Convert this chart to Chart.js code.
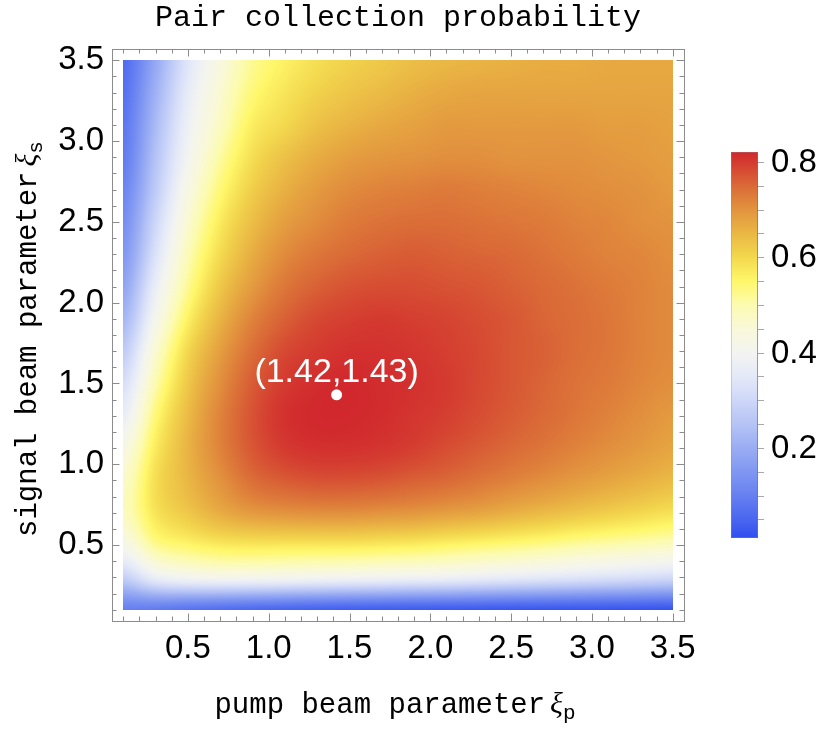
<!DOCTYPE html>
<html><head><meta charset="utf-8">
<script src="https://cdn.jsdelivr.net/npm/chart.js@4.4.1/dist/chart.umd.min.js"></script>
<style>html,body{margin:0;padding:0;background:#fff;}canvas{display:block;}</style>
</head><body>
<canvas id="c" width="822" height="729"></canvas>
<script>
// ---------------- data ----------------
const chartTitle = "Pair collection probability";
const xAxisLabel = "pump beam parameter";
const xAxisSymbol = "\u03BE";
const xAxisSub = "p";
const yAxisLabel = "signal beam parameter";
const yAxisSymbol = "\u03BE";
const yAxisSub = "s";

// grid nodes (pump = x, signal = y)
const pumpNodes   = [0.1,0.3,0.5,0.7,0.9,1.1,1.3,1.5,1.7,1.9,2.1,2.3,2.5,2.7,2.9,3.1,3.3,3.5];
const signalNodes = [0.1,0.3,0.5,0.7,0.9,1.1,1.3,1.5,1.7,1.9,2.1,2.3,2.5,2.7,2.9,3.1,3.3,3.5];

// probability rows: one row per signal node (bottom to top), columns follow pumpNodes
const rowS01 = [0.10,0.09,0.075,0.065,0.055,0.048,0.042,0.038,0.035,0.032,0.030,0.028,0.026,0.025,0.024,0.023,0.022,0.020];
const rowS03 = [0.28,0.37,0.40,0.41,0.41,0.405,0.40,0.395,0.39,0.385,0.38,0.37,0.36,0.35,0.34,0.33,0.32,0.31];
const rowS05 = [0.42,0.52,0.55,0.57,0.575,0.575,0.575,0.575,0.57,0.565,0.555,0.545,0.535,0.525,0.51,0.50,0.49,0.48];
const rowS07 = [0.48,0.58,0.625,0.665,0.69,0.70,0.705,0.705,0.70,0.695,0.685,0.675,0.66,0.645,0.63,0.615,0.60,0.585];
const rowS09 = [0.47,0.59,0.65,0.70,0.745,0.765,0.775,0.775,0.77,0.76,0.75,0.735,0.72,0.705,0.69,0.675,0.66,0.645];
const rowS11 = [0.43,0.57,0.655,0.72,0.77,0.80,0.81,0.81,0.805,0.795,0.78,0.765,0.75,0.735,0.72,0.705,0.69,0.675];
const rowS13 = [0.37,0.54,0.645,0.72,0.775,0.81,0.82,0.82,0.815,0.805,0.795,0.78,0.765,0.75,0.735,0.72,0.705,0.69];
const rowS15 = [0.32,0.50,0.625,0.705,0.765,0.80,0.815,0.82,0.815,0.81,0.80,0.785,0.77,0.755,0.74,0.73,0.715,0.705];
const rowS17 = [0.27,0.46,0.60,0.685,0.745,0.785,0.80,0.81,0.81,0.805,0.795,0.785,0.77,0.76,0.745,0.735,0.72,0.71];
const rowS19 = [0.22,0.41,0.56,0.655,0.72,0.76,0.785,0.795,0.80,0.795,0.79,0.78,0.77,0.755,0.745,0.735,0.72,0.71];
const rowS21 = [0.18,0.37,0.52,0.625,0.69,0.735,0.76,0.775,0.78,0.78,0.775,0.77,0.76,0.75,0.74,0.73,0.72,0.71];
const rowS23 = [0.15,0.33,0.49,0.595,0.665,0.71,0.735,0.75,0.76,0.765,0.76,0.755,0.75,0.74,0.73,0.72,0.715,0.705];
const rowS25 = [0.13,0.30,0.46,0.57,0.64,0.685,0.71,0.73,0.74,0.745,0.745,0.74,0.735,0.73,0.72,0.715,0.705,0.70];
const rowS27 = [0.11,0.27,0.43,0.54,0.615,0.66,0.69,0.71,0.72,0.725,0.73,0.725,0.72,0.715,0.71,0.705,0.70,0.69];
const rowS29 = [0.09,0.25,0.40,0.51,0.59,0.635,0.665,0.685,0.695,0.70,0.705,0.705,0.70,0.70,0.70,0.695,0.69,0.685];
const rowS31 = [0.08,0.23,0.38,0.48,0.565,0.60,0.635,0.655,0.67,0.68,0.69,0.69,0.69,0.69,0.69,0.685,0.685,0.68];
const rowS33 = [0.07,0.21,0.36,0.46,0.54,0.58,0.61,0.63,0.645,0.66,0.67,0.675,0.675,0.675,0.675,0.675,0.675,0.675];
const rowS35 = [0.06,0.19,0.34,0.44,0.52,0.56,0.59,0.61,0.625,0.64,0.65,0.655,0.66,0.665,0.665,0.67,0.67,0.67];
const probability = [rowS01,rowS03,rowS05,rowS07,rowS09,rowS11,rowS13,rowS15,rowS17,rowS19,rowS21,rowS23,rowS25,rowS27,rowS29,rowS31,rowS33,rowS35];

const peakPoint = {x: 1.42, y: 1.43};
const peakLabel = "(1.42,1.43)";

const xTickValues = [0.5,1.0,1.5,2.0,2.5,3.0,3.5];
const yTickValues = [0.5,1.0,1.5,2.0,2.5,3.0,3.5];
const colorbarTicks = [0.2,0.4,0.6,0.8];
const colorbarMin = 0.011;
const colorbarMax = 0.821;
const colorStops = [
  [0.011,'#2f4fee'],[0.05,'#4a66f0'],[0.10,'#6680f1'],[0.15,'#8097f2'],[0.20,'#9aadf3'],
  [0.25,'#b5c3f6'],[0.30,'#ced7f8'],[0.35,'#e4e9f8'],[0.40,'#f3f4f0'],[0.45,'#f9f8da'],
  [0.50,'#fcfbb0'],[0.55,'#fff76a'],[0.60,'#f3d84e'],[0.65,'#eab744'],[0.70,'#e2933e'],
  [0.75,'#da6a37'],[0.80,'#d43a30'],[0.821,'#d1282d']
];

// ---------------- helpers ----------------
function hexToRgb(h){const n=parseInt(h.slice(1),16);return [(n>>16)&255,(n>>8)&255,n&255];}
const stopRgb = colorStops.map(s=>[s[0],hexToRgb(s[1])]);
function colorFor(v){
  if (v<=stopRgb[0][0]) return stopRgb[0][1];
  for (let k=1;k<stopRgb.length;k++){
    if (v<=stopRgb[k][0]){
      const v0=stopRgb[k-1][0], c0=stopRgb[k-1][1], v1=stopRgb[k][0], c1=stopRgb[k][1];
      const t=(v-v0)/(v1-v0);
      return [c0[0]+(c1[0]-c0[0])*t, c0[1]+(c1[1]-c0[1])*t, c0[2]+(c1[2]-c0[2])*t];
    }
  }
  return stopRgb[stopRgb.length-1][1];
}
function cr(p0,p1,p2,p3,t){const t2=t*t,t3=t2*t;return 0.5*(2*p1+(-p0+p2)*t+(2*p0-5*p1+4*p2-p3)*t2+(-p0+3*p1-3*p2+p3)*t3);}
function locate(nodes,v){let i=0;while(i<nodes.length-2&&v>nodes[i+1])i++;let t=(v-nodes[i])/(nodes[i+1]-nodes[i]);t=Math.max(0,Math.min(1,t));return [i,t];}
function at(j,i){j=Math.max(0,Math.min(probability.length-1,j));i=Math.max(0,Math.min(pumpNodes.length-1,i));return probability[j][i];}

const MONO = '"Liberation Mono", "DejaVu Sans Mono", monospace';
const SANS = '"Liberation Sans", Arial, sans-serif';
const SERIF = '"Liberation Serif", "DejaVu Serif", serif';
const frameColor = '#8c8c8c';

// ---------------- plugins ----------------
const heatmapPlugin = {
  id: 'heatmap',
  beforeDatasetsDraw(chart){
    const ctx = chart.ctx, sx = chart.scales.x, sy = chart.scales.y;
    const left = Math.round(sx.getPixelForValue(pumpNodes[0]));
    const right = Math.round(sx.getPixelForValue(pumpNodes[pumpNodes.length-1]));
    const top = Math.round(sy.getPixelForValue(signalNodes[signalNodes.length-1]));
    const bottom = Math.round(sy.getPixelForValue(signalNodes[0]));
    const w = right-left, h = bottom-top;
    const off = document.createElement('canvas'); off.width=w; off.height=h;
    const octx = off.getContext('2d');
    const img = octx.createImageData(w,h);
    const colInfo = [];
    for (let px=0; px<w; px++) colInfo.push(locate(pumpNodes, sx.getValueForPixel(left+px+0.5)));
    for (let py=0; py<h; py++){
      const [j,ty] = locate(signalNodes, sy.getValueForPixel(top+py+0.5));
      for (let px=0; px<w; px++){
        const [i,tx] = colInfo[px];
        const r0=cr(at(j-1,i-1),at(j-1,i),at(j-1,i+1),at(j-1,i+2),tx);
        const r1=cr(at(j,i-1),at(j,i),at(j,i+1),at(j,i+2),tx);
        const r2=cr(at(j+1,i-1),at(j+1,i),at(j+1,i+1),at(j+1,i+2),tx);
        const r3=cr(at(j+2,i-1),at(j+2,i),at(j+2,i+1),at(j+2,i+2),tx);
        const z = cr(r0,r1,r2,r3,ty);
        const c = colorFor(z);
        const k = (py*w+px)*4;
        img.data[k]=c[0]; img.data[k+1]=c[1]; img.data[k+2]=c[2]; img.data[k+3]=255;
      }
    }
    octx.putImageData(img,0,0);
    ctx.drawImage(off,left,top);
  }
};

function drawParts(ctx, parts, gap){
  let x=0;
  parts.forEach((p,idx)=>{ctx.font=p.font; ctx.fillText(p.text, x, p.dy); x+=ctx.measureText(p.text).width + (idx===0?gap:0);});
  return x;
}
function measureParts(ctx, parts, gap){
  let x=0;
  parts.forEach((p,idx)=>{ctx.font=p.font; x+=ctx.measureText(p.text).width + (idx===0?gap:0);});
  return x;
}

const decorPlugin = {
  id: 'decor',
  afterDatasetsDraw(chart){
    const ctx = chart.ctx, sx = chart.scales.x, sy = chart.scales.y;
    ctx.save();
    ctx.fillStyle='#fff'; ctx.font='34px '+SANS; ctx.textAlign='center'; ctx.textBaseline='alphabetic';
    ctx.fillText(peakLabel, sx.getPixelForValue(peakPoint.x), sy.getPixelForValue(peakPoint.y)-13);
    ctx.restore();
  },
  afterDraw(chart){
    const ctx = chart.ctx, ca = chart.chartArea, sx = chart.scales.x, sy = chart.scales.y;
    ctx.save();
    ctx.strokeStyle=frameColor; ctx.lineWidth=1;
    ctx.strokeRect(Math.round(ca.left)+0.5, Math.round(ca.top)+0.5, Math.round(ca.right-ca.left), Math.round(ca.bottom-ca.top));
    ctx.beginPath();
    for (let k=1;k<=35;k++){
      const v=k/10, major=(k%5===0), len= major?7.5:4.5;
      const px=Math.round(sx.getPixelForValue(v))+0.5;
      ctx.moveTo(px, ca.bottom); ctx.lineTo(px, ca.bottom-len);
      ctx.moveTo(px, ca.top); ctx.lineTo(px, ca.top+len);
      const py=Math.round(sy.getPixelForValue(v))+0.5;
      ctx.moveTo(ca.left, py); ctx.lineTo(ca.left+len, py);
      ctx.moveTo(ca.right, py); ctx.lineTo(ca.right-len, py);
    }
    ctx.stroke();

    ctx.fillStyle='#000'; ctx.textAlign='center'; ctx.textBaseline='alphabetic';
    ctx.font='30px '+MONO;
    ctx.fillText(chartTitle, (ca.left+ca.right)/2, 26);

    ctx.textAlign='left';
    const xParts=[{text:xAxisLabel,font:'29px '+MONO,dy:0},{text:xAxisSymbol,font:'italic 30px '+SERIF,dy:0},{text:xAxisSub,font:'21px '+MONO,dy:6}];
    const xw=measureParts(ctx,xParts,5);
    ctx.save(); ctx.translate((ca.left+ca.right)/2 - xw/2 - 3, 713); drawParts(ctx,xParts,5); ctx.restore();
    const yParts=[{text:yAxisLabel,font:'29px '+MONO,dy:0},{text:yAxisSymbol,font:'italic 30px '+SERIF,dy:0},{text:yAxisSub,font:'21px '+MONO,dy:6}];
    const yw=measureParts(ctx,yParts,5);
    ctx.save(); ctx.translate(36, (ca.top+ca.bottom)/2 + yw/2 + 4); ctx.rotate(-Math.PI/2); drawParts(ctx,yParts,5); ctx.restore();

    const cbLeft=731, cbRight=758, cbTop=152, cbBottom=538;
    const cbY = v => cbTop + (colorbarMax - v)/(colorbarMax-colorbarMin)*(cbBottom-cbTop);
    for (let py=cbTop; py<cbBottom; py++){
      const v = colorbarMax - (py+0.5-cbTop)/(cbBottom-cbTop)*(colorbarMax-colorbarMin);
      const c = colorFor(v);
      ctx.fillStyle='rgb('+Math.round(c[0])+','+Math.round(c[1])+','+Math.round(c[2])+')';
      ctx.fillRect(cbLeft, py, cbRight-cbLeft, 1);
    }
    ctx.strokeStyle='rgba(90,90,90,0.55)'; ctx.lineWidth=1;
    ctx.beginPath(); ctx.moveTo(cbRight-0.5, cbTop); ctx.lineTo(cbRight-0.5, cbBottom); ctx.stroke();
    ctx.strokeStyle='rgba(150,150,150,0.35)';
    ctx.strokeRect(cbLeft+0.5, cbTop+0.5, cbRight-cbLeft-1, cbBottom-cbTop-1);
    ctx.strokeStyle='#aaaaaa'; ctx.beginPath();
    for (let k=1;k<=16;k++){
      const v=k*0.05, y=Math.round(cbY(v))+0.5;
      ctx.moveTo(cbRight, y); ctx.lineTo(cbRight+6, y);
    }
    ctx.stroke();
    ctx.fillStyle='#000'; ctx.font='33px '+SANS; ctx.textAlign='left'; ctx.textBaseline='middle';
    colorbarTicks.forEach(v=>ctx.fillText(v.toFixed(1), 771, cbY(v)+1));
    ctx.restore();
  }
};

// ---------------- chart ----------------
new Chart(document.getElementById('c'), {
  type: 'scatter',
  data: { datasets: [{
    label: 'optimum',
    data: [peakPoint],
    pointRadius: 5.5, pointHoverRadius: 5.5,
    backgroundColor: '#ffffff', borderWidth: 0
  }]},
  options: {
    responsive: false, animation: false, devicePixelRatio: 1,
    layout: { autoPadding: false, padding: { left: 0, right: 138, top: 49, bottom: 0 } },
    plugins: { legend: {display:false}, title: {display:false}, tooltip: {enabled:false} },
    scales: {
      x: {
        type: 'linear', min: 0.03, max: 3.57,
        grid: { display:false, drawTicks:false }, border: { display:false },
        afterBuildTicks: s => { s.ticks = xTickValues.map(v=>({value:v})); },
        afterFit: s => { s.height = 108; },
        ticks: { font: {family: SANS, size: 33}, color: '#000', padding: 8, maxRotation: 0, autoSkip: false,
                 callback: v => Number(v).toFixed(1) }
      },
      y: {
        type: 'linear', min: 0.03, max: 3.57,
        grid: { display:false, drawTicks:false }, border: { display:false },
        afterBuildTicks: s => { s.ticks = yTickValues.map(v=>({value:v})); },
        afterFit: s => { s.width = 112; },
        ticks: { font: {family: SANS, size: 33}, color: '#000', padding: 8, autoSkip: false,
                 callback: v => Number(v).toFixed(1) }
      }
    }
  },
  plugins: [heatmapPlugin, decorPlugin]
});
</script>
</body></html>
